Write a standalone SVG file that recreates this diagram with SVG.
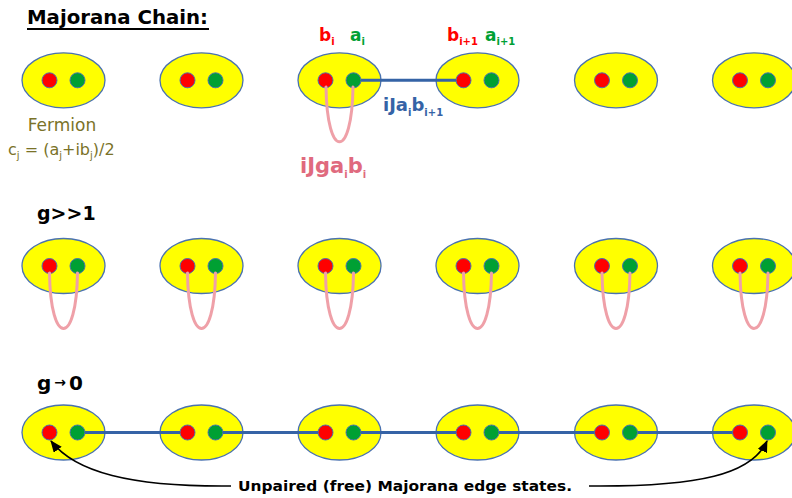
<svg xmlns="http://www.w3.org/2000/svg" width="792" height="498" viewBox="0 0 792 498">
<defs>
<style>
.el{fill:#FFFF00;stroke:#4A72B0;stroke-width:1.3}
.r{fill:#FF0000;stroke:#4A72B0;stroke-width:1}
.g{fill:#00A033;stroke:#4A72B0;stroke-width:1}
.loop{fill:none;stroke:#EFA0A8;stroke-width:3;stroke-linecap:round}
.bl{stroke:#3563A6;stroke-width:3}
.arr{fill:none;stroke:#000;stroke-width:1.6}
text{font-family:"Comic Sans MS","DejaVu Sans",sans-serif;font-weight:bold}
text.nb{font-weight:normal;fill:#7A7228}
.sub{font-size:10px}
</style>
<marker id="ah" viewBox="0 0 12 10" refX="11" refY="5" markerWidth="12" markerHeight="10" markerUnits="userSpaceOnUse" orient="auto">
<path d="M0,0 L12,5 L0,10 Z" fill="#000"/>
</marker>
<g id="cell">
<ellipse class="el" cx="0" cy="0" rx="41.5" ry="27.5"/>
<circle class="r" cx="-14" cy="0" r="7.5"/>
<circle class="g" cx="14" cy="0" r="7.5"/>
</g>
</defs>

<g id="title">
<text x="27" y="24" font-size="20" textLength="181" lengthAdjust="spacingAndGlyphs">Majorana Chain:</text>
<line x1="27" y1="29" x2="209" y2="29" stroke="#000" stroke-width="2"/>
</g>

<!-- Row 1 -->
<g id="r1n1"><use href="#cell" x="63.5" y="80.3"/></g>
<g id="r1n2"><use href="#cell" x="201.5" y="80.3"/></g>
<g id="r1n3"><use href="#cell" x="339.5" y="80.3"/></g>
<g id="r1n4"><use href="#cell" x="477.5" y="80.3"/></g>
<g id="r1n5"><use href="#cell" x="616" y="80.3"/></g>
<g id="r1n6"><use href="#cell" x="754" y="80.3"/></g>

<g id="r1labels">
<text class="nb" x="62" y="131" font-size="17" text-anchor="middle">Fermion</text>
<text class="nb" x="8" y="155" font-size="16">c<tspan class="sub" dy="4">j</tspan><tspan dy="-4"> = (a</tspan><tspan class="sub" dy="4">j</tspan><tspan dy="-4">+ib</tspan><tspan class="sub" dy="4">j</tspan><tspan dy="-4">)/2</tspan></text>
<text x="319" y="41" font-size="17" fill="#FF0000">b<tspan class="sub" dy="4">i</tspan></text>
<text x="350" y="41" font-size="17" fill="#00A033">a<tspan class="sub" dy="4">i</tspan></text>
<text x="447" y="41" font-size="17" fill="#FF0000">b<tspan class="sub" dy="4">i+1</tspan></text>
<text x="485" y="41" font-size="17" fill="#00A033">a<tspan class="sub" dy="4">i+1</tspan></text>
<text x="383" y="111" font-size="18" fill="#3563A6">iJa<tspan class="sub" dy="5">i</tspan><tspan dy="-5">b</tspan><tspan class="sub" dy="5">i+1</tspan></text>
<text x="300" y="173" font-size="21" fill="#E06A7E">iJga<tspan class="sub" dy="5">i</tspan><tspan dy="-5">b</tspan><tspan class="sub" dy="5">i</tspan></text>
</g>

<!-- Row 2 -->
<g id="r2label"><text x="37" y="220" font-size="19">g&gt;&gt;1</text></g>
<g id="r2n1"><use href="#cell" x="63.5" y="266"/></g>
<g id="r2n2"><use href="#cell" x="201.5" y="266"/></g>
<g id="r2n3"><use href="#cell" x="339.5" y="266"/></g>
<g id="r2n4"><use href="#cell" x="477.5" y="266"/></g>
<g id="r2n5"><use href="#cell" x="616" y="266"/></g>
<g id="r2n6"><use href="#cell" x="754" y="266"/></g>

<!-- Row 3 -->
<g id="r3label"><text x="37" y="390" font-size="20">g<tspan font-size="14" dx="3" dy="-3">→</tspan><tspan dx="3" dy="3">0</tspan></text></g>
<g id="r3n1"><use href="#cell" x="63.5" y="432.5"/></g>
<g id="r3n2"><use href="#cell" x="201.5" y="432.5"/></g>
<g id="r3n3"><use href="#cell" x="339.5" y="432.5"/></g>
<g id="r3n4"><use href="#cell" x="477.5" y="432.5"/></g>
<g id="r3n5"><use href="#cell" x="616" y="432.5"/></g>
<g id="r3n6"><use href="#cell" x="754" y="432.5"/></g>
<g id="r3text"><text x="405" y="491" font-size="14" text-anchor="middle" textLength="334" lengthAdjust="spacingAndGlyphs">Unpaired (free) Majorana edge states.</text></g>

<g id="connectors">
<!-- Row 1 -->
<path class="loop" d="M326,87 C327,160 352,160 353,87"/>
<line class="bl" x1="361" y1="80.3" x2="456" y2="80.3"/>
<!-- Row 2 loops -->
<path class="loop" d="M49.5,273 C50.5,347 76.5,347 77.5,273"/>
<path class="loop" d="M187.5,273 C188.5,347 214.5,347 215.5,273"/>
<path class="loop" d="M325.5,273 C326.5,347 352.5,347 353.5,273"/>
<path class="loop" d="M463.5,273 C464.5,347 490.5,347 491.5,273"/>
<path class="loop" d="M602,273 C603,347 629,347 630,273"/>
<path class="loop" d="M740,273 C741,347 767,347 768,273"/>
<!-- Row 3 chain -->
<line class="bl" x1="85" y1="432.5" x2="180" y2="432.5"/>
<line class="bl" x1="223" y1="432.5" x2="318" y2="432.5"/>
<line class="bl" x1="361" y1="432.5" x2="456" y2="432.5"/>
<line class="bl" x1="499" y1="432.5" x2="594.5" y2="432.5"/>
<line class="bl" x1="637.5" y1="432.5" x2="732.5" y2="432.5"/>
<!-- Edge-state arrows -->
<path class="arr" d="M231,486 C130,487 75,472 51,441" marker-end="url(#ah)"/>
<path class="arr" d="M589,486 C700,487 752,474 767,441" marker-end="url(#ah)"/>
</g>
</svg>
